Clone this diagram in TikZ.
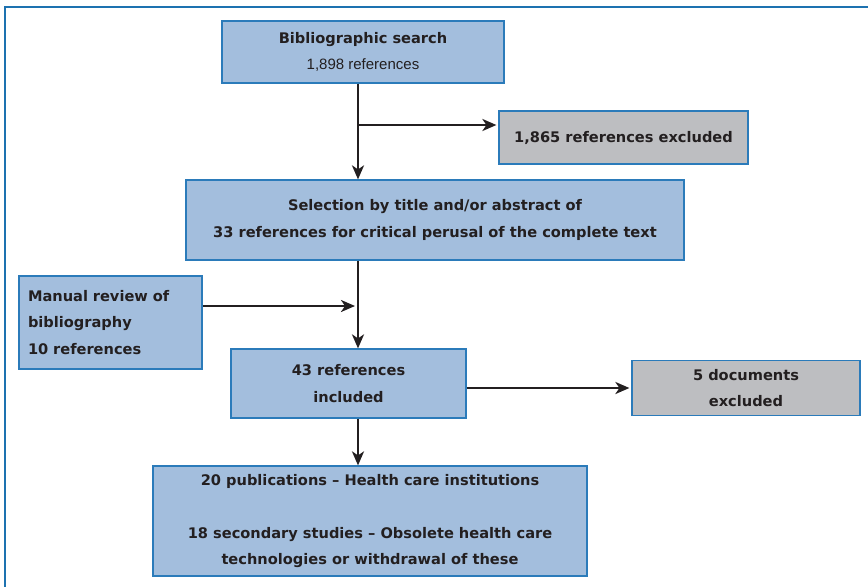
\documentclass[tikz,border=0pt]{standalone}
\usepackage{fontspec}
\newfontfamily\heavyfont{DejaVu Sans}
\newfontfamily\plainfont{Liberation Sans}
\usetikzlibrary{shapes}
\usetikzlibrary{arrows.meta}
\usetikzlibrary{positioning}
\usetikzlibrary{calc}

\definecolor{boxblue}{HTML}{A3BEDD}
\definecolor{edgeblue}{HTML}{2B7BBA}
\definecolor{boxgrey}{HTML}{BDBEC1}
\definecolor{inkdark}{HTML}{231F20}
\definecolor{frameblue}{HTML}{1D72B0}

\begin{document}
\begin{tikzpicture}[
        x=1pt, y=-1pt,
        every node/.style={align=center, text=inkdark,
                           font=\heavyfont\bfseries\fontsize{14.6}{26.5}\selectfont},
        stage/.style = {draw=edgeblue,
                        fill=boxblue,
                        line width=1.2pt,
                        inner sep=0pt},
        dropped/.style = {stage, fill=boxgrey},
        flow/.style = {-{Stealth[length=14pt,width=12pt,inset=4pt]},
                       line width=2.4pt, draw=inkdark}
        ]
        \useasboundingbox (0,0) rectangle (868,587);
        \draw[frameblue, line width=2.5pt] (868,7) -- (5,7) -- (5,587);

        \node[stage, minimum width=282pt, minimum height=62pt] (Search) at (363,52)
            {Bibliographic search\\{\plainfont\mdseries\fontsize{15}{26.5}\selectfont 1,898 references}};
        \node[dropped, minimum width=249pt, minimum height=53pt] (ExclA) at (623.5,137.5)
            {1,865 references excluded};
        \node[stage, minimum width=498pt, minimum height=80pt] (Selection) at (435,220)
            {Selection by title and/or abstract of\\33 references for critical perusal of the complete text};
        \node[stage, text width=165pt, inner xsep=9pt, align=left, minimum height=93pt] (Manual) at (110.5,322.5)
            {Manual review of\\bibliography\\10 references};
        \node[stage, minimum width=235pt, minimum height=69pt] (Included) at (348.5,383.5)
            {43 references\\included};
        \node[dropped, minimum width=228pt, minimum height=55pt] (ExclB) at (746,388)
            {5 documents\\excluded};
        \node[stage, minimum width=434pt, minimum height=110pt] (Final) at (370,521)
            {20 publications – Health care institutions\\[26.5pt]18 secondary studies – Obsolete health care\\technologies or withdrawal of these};

        \coordinate (SplitA) at (358,125);
        \coordinate (JoinB) at (358,306);
        \draw [flow] (Search.south -| SplitA) -- (Selection.north -| SplitA);
        \draw [flow, shorten >=2pt] (SplitA) -- (ExclA.west |- SplitA);
        \draw [flow] (Selection.south -| SplitA) -- (Included.north -| SplitA);
        \draw [flow, shorten >=3pt] (Manual.east |- JoinB) -- (JoinB);
        \draw [flow, shorten >=2pt] (Included.east |- ExclB.west) -- (ExclB.west);
        \draw [flow] (Included.south -| SplitA) -- (Final.north -| SplitA);
    \end{tikzpicture}
\end{document}
